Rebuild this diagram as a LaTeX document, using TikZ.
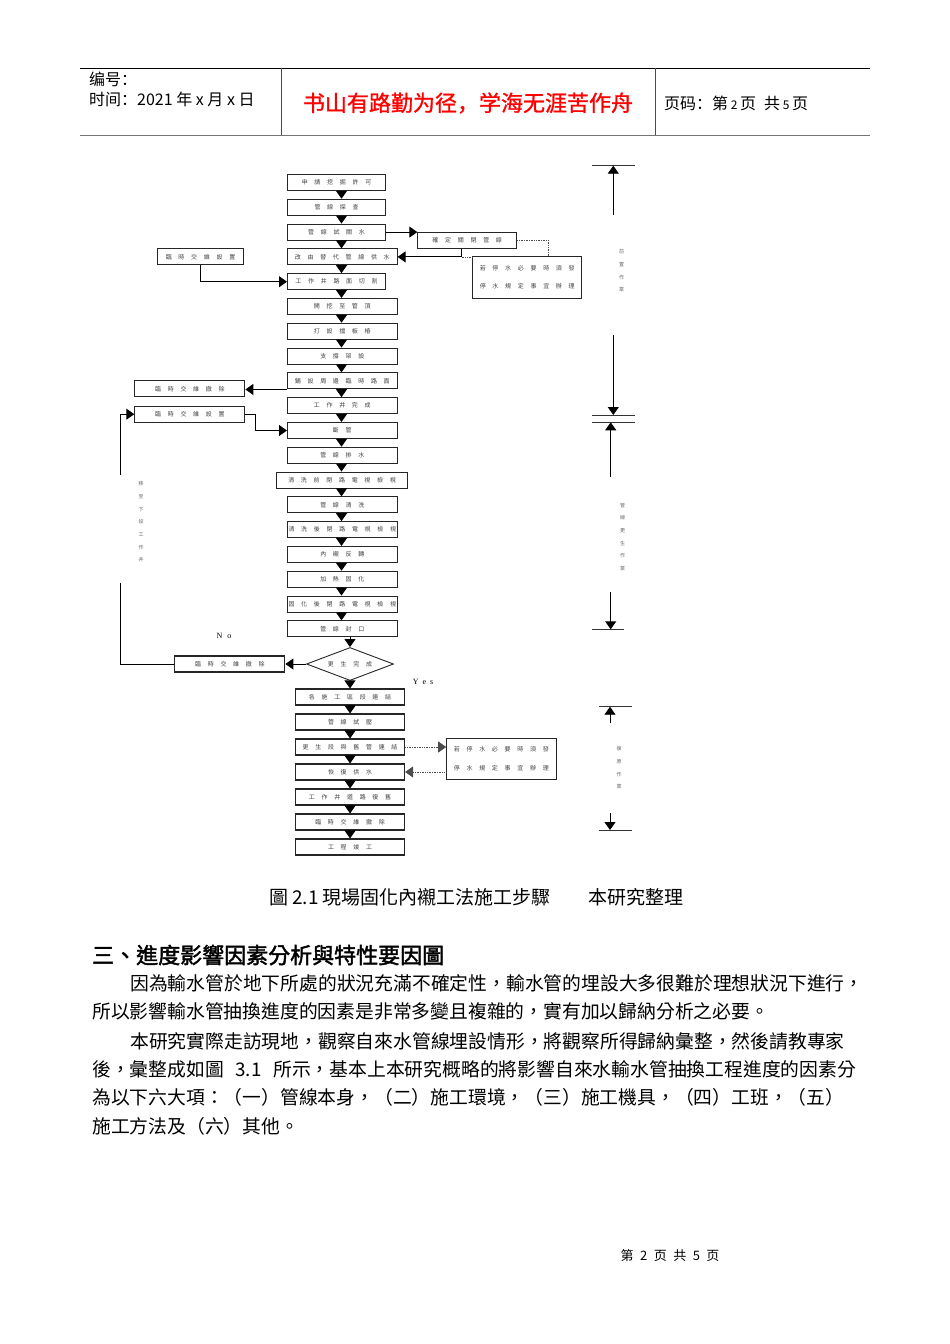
\documentclass[tikz,border=0pt]{standalone}
\usepackage{fontspec}
\setmainfont{Liberation Serif}
\newfontfamily\tcfont{Noto Sans CJK TC}
\newfontfamily\tcboldfont[FakeBold=2]{Noto Sans CJK TC}
\newfontfamily\scfont{Noto Sans CJK SC}
\newfontfamily\scboldfont[FakeBold=1.2]{Noto Sans CJK SC}
\usetikzlibrary{shapes.geometric, arrows.meta, positioning}

% glue between CJK characters, so that body lines can be justified
\XeTeXinterchartokenstate=1
\newcommand\cjkglue{\hskip0pt plus 2pt minus 0.6pt}
\XeTeXinterchartoks 1 1 = {\cjkglue}
\XeTeXinterchartoks 1 2 = {\cjkglue}
\XeTeXinterchartoks 1 3 = {\cjkglue}
\XeTeXinterchartoks 2 1 = {\cjkglue}
\XeTeXinterchartoks 3 1 = {\cjkglue}
\XeTeXinterchartoks 3 2 = {\cjkglue}

\makeatletter
\newcommand\spread[1]{\def\spreadgap{}\@tfor\spreadch:=#1\do{\spreadgap\spreadch\def\spreadgap{\hspace{6.7pt}}}}
\makeatother

\newcommand\bodyfont{\tcfont\fontsize{18.8}{22}\selectfont}

\tikzset{
    stepbox/.style={rectangle, draw=black!85, line width=1.1pt, minimum height=16pt, inner sep=0pt, anchor=west, text=black!75, font=\tcfont\fontsize{6}{7}\selectfont},
    notebox/.style={rectangle, draw=black!85, line width=0.9pt, inner sep=0pt, align=center, text=black!75, font=\tcfont\fontsize{6}{18.3}\selectfont},
    check/.style={diamond, aspect=2.6, draw=black!85, line width=0.9pt, minimum width=87pt, minimum height=33pt, inner sep=0pt, text=black!75, font=\tcfont\fontsize{6}{7}\selectfont},
    phase/.style={align=center, inner sep=0pt, text=black!60, font=\tcfont\fontsize{5}{12.7}\selectfont},
    yn/.style={inner sep=0pt, font=\fontsize{8}{9}\selectfont},
    arrow/.style={line width=0.9pt, -{Triangle[width=11pt,length=8pt]}},
    dotline/.style={densely dotted, line width=0.7pt, draw=black!70},
    dotarrow/.style={dotline, -{Triangle[width=11pt,length=8pt]}},
    bar/.style={line width=0.9pt, draw=black!80},
    line/.style={line width=0.9pt}
}

\begin{document}
\begin{tikzpicture}[x=1pt, y=-1pt]
    \useasboundingbox (0,0) rectangle (950,1344);

    % Header
    \draw[line width=0.8pt] (80,68) -- (870,68);
    \draw[line width=1.6pt, black!55] (80,135.5) -- (870,135.5);
    \draw[line width=0.8pt, black!70] (281,68) -- (281,135);
    \draw[line width=0.8pt, black!70] (655,68) -- (655,135);
    \node[anchor=west, inner sep=0pt, font=\scfont\fontsize{16}{18}\selectfont] (hnum) at (89,79) {编号：};
    \node[anchor=west, inner sep=0pt, font=\scfont\fontsize{16}{18}\selectfont] (hdate) at (89,99) {时间：2021 年 x 月 x 日};
    \node[inner sep=0pt, text=red, font=\scboldfont\fontsize{22}{24}\selectfont] (motto) at (468,103) {书山有路勤为径，学海无涯苦作舟};
    \node[anchor=west, inner sep=0pt, font=\scfont\fontsize{16}{18}\selectfont] (hpage) at (664,103) {页码：第\,{\fontsize{12}{12}\selectfont 2}\,页\enspace 共\,{\fontsize{12}{12}\selectfont 5}\,页};

    % Main column
    \coordinate (colA) at (341.5,0);
    \coordinate (colB) at (349.5,0);
    \node[stepbox, minimum width=98pt] (permit) at (287,182.5) {\spread{申請挖掘許可}};
    \node[stepbox, minimum width=98pt] (survey) at (287,207.3) {\spread{管線探查}};
    \node[stepbox, minimum width=98pt] (shutoff) at (287,232.1) {\spread{管線試關水}};
    \node[stepbox, minimum width=109.5pt] (altsupply) at (287,256.9) {\spread{改由替代管線供水}};
    \node[stepbox, minimum width=98pt] (cutroad) at (287,281.7) {\spread{工作井路面切割}};
    \node[stepbox, minimum width=109.5pt] (digtop) at (287,306.5) {\spread{開挖至管頂}};
    \node[stepbox, minimum width=109.5pt] (sheetpile) at (287,331.3) {\spread{打設擋板樁}};
    \node[stepbox, minimum width=109.5pt] (bracing) at (287,356.1) {\spread{支撐架設}};
    \node[stepbox, minimum width=109.5pt] (temproad) at (287,380.9) {\spread{鋪設周邊臨時路面}};
    \node[stepbox, minimum width=109.5pt] (pitdone) at (287,405.7) {\spread{工作井完成}};
    \node[stepbox, minimum width=109.5pt] (cutpipe) at (287,430.5) {\spread{斷管}};
    \node[stepbox, minimum width=109.5pt] (drain) at (287,455.3) {\spread{管線排水}};
    \node[stepbox, minimum width=131pt] (cctvpre) at (276,480.1) {\spread{清洗前閉路電視檢視}};
    \node[stepbox, minimum width=109.5pt] (wash) at (287,504.9) {\spread{管線清洗}};
    \node[stepbox, minimum width=109.5pt] (cctvwash) at (287,529.7) {\spread{清洗後閉路電視檢視}};
    \node[stepbox, minimum width=109.5pt] (invert) at (287,554.5) {\spread{內襯反轉}};
    \node[stepbox, minimum width=109.5pt] (heat) at (287,579.3) {\spread{加熱固化}};
    \node[stepbox, minimum width=109.5pt] (cctvpost) at (287,604.1) {\spread{固化後閉路電視檢視}};
    \node[stepbox, minimum width=109.5pt] (seal) at (287,628.9) {\spread{管線封口}};
    \node[check] (done) at (350,664) {\spread{更生完成}};
    \node[stepbox, minimum width=109pt] (link) at (295,697) {\spread{各施工區段連結}};
    \node[stepbox, minimum width=109pt] (ptest) at (295,722) {\spread{管線試壓}};
    \node[stepbox, minimum width=109pt] (connect) at (295,747) {\spread{更生段與舊管連結}};
    \node[stepbox, minimum width=109pt] (resupply) at (295,772) {\spread{恢復供水}};
    \node[stepbox, minimum width=109pt] (restore) at (295,797) {\spread{工作井道路復舊}};
    \node[stepbox, minimum width=109pt] (trafend) at (295,822) {\spread{臨時交維撤除}};
    \node[stepbox, minimum width=109pt] (finish) at (295,847) {\spread{工程竣工}};

    \foreach \a/\b in {permit/survey, survey/shutoff, shutoff/altsupply, altsupply/cutroad, cutroad/digtop, digtop/sheetpile, sheetpile/bracing, bracing/temproad, temproad/pitdone, pitdone/cutpipe, cutpipe/drain, drain/cctvpre, cctvpre/wash, wash/cctvwash, cctvwash/invert, invert/heat, heat/cctvpost, cctvpost/seal} {
        \draw[arrow] (\a.south -| colA) -- (\b.north -| colA);
    }
    \draw[arrow] (seal.south -| done.north) -- (done.north);
    \draw[arrow] (done.south) -- (link.north);
    \foreach \a/\b in {link/ptest, ptest/connect, connect/resupply, resupply/restore, restore/trafend, trafend/finish} {
        \draw[arrow] (\a.south) -- (\b.north);
    }

    % Side boxes
    \node[stepbox, minimum width=86.6pt] (trafset) at (156.7,256.7) {\spread{臨時交維設置}};
    \node[stepbox, minimum width=110pt] (trafrem) at (134.3,388.7) {\spread{臨時交維撤除}};
    \node[stepbox, minimum width=110pt] (trafnext) at (134.3,414.2) {\spread{臨時交維設置}};
    \node[stepbox, minimum width=110pt] (trafback) at (174.3,664) {\spread{臨時交維撤除}};
    \node[stepbox, minimum width=98.7pt] (confirm) at (417.3,240.3) {\spread{確定關閉管線}};
    \node[notebox, minimum width=109pt, minimum height=41.6pt] (notice) at (527.2,277.5) {\spread{若停水必要時須發}\\\spread{停水規定事宜辦理}};
    \node[notebox, minimum width=109.3pt, minimum height=41pt] (noticeb) at (501.3,758.8) {\spread{若停水必要時須發}\\\spread{停水規定事宜辦理}};

    \draw[arrow] (shutoff.east) -- (shutoff.east -| confirm.west);
    \coordinate (ret) at (461.7,256.9);
    \coordinate (nt) at (548,0);
    \draw[arrow] (confirm.south -| ret) -- (ret) -- (altsupply.east);
    \draw[dotline] (ret) -- (ret -| notice.west);
    \draw[dotline] (confirm.east) -| (notice.north -| nt);
    \draw[arrow] (trafset.south) |- (cutroad.west);
    \draw[arrow] (temproad.south west) -- (temproad.south west -| trafrem.east);
    \draw[arrow] (trafnext.east) -- ++(10,0) |- (cutpipe.west);
    \draw[arrow] (done.west) -- (trafback.east);

    % loop back for the next section
    \coordinate (loopa) at (120,583);
    \coordinate (loopb) at (120,475);
    \draw[line] (trafback.west) -| (loopa);
    \draw[arrow] (loopb) |- (trafnext.west);
    \node[phase, text=black!60] (loopnote) at (141,522) {移\\至\\下\\段\\工\\作\\井};
    \node[yn] (nolabel) at (224,636) {N\hspace{5pt}o};
    \node[yn] (yeslabel) at (423,682) {Y\hspace{4pt}e\hspace{4pt}s};

    \draw[dotarrow] (connect.east) -- (connect.east -| noticeb.west);
    \draw[dotarrow] (resupply.east -| noticeb.west) -- (resupply.east);

    % Phase markers
    \draw[bar] (591.7,165.7) -- (635,165.7);
    \draw[arrow] (613.3,215) -- (613.3,165.7);
    \node[phase] (phasea) at (621.7,271) {前\\置\\作\\業};
    \draw[arrow] (613.3,335) -- (613.3,415);
    \draw[bar] (591.7,415) -- (635,415);

    \draw[bar] (591.7,422.3) -- (635,422.3);
    \draw[arrow] (610.7,476.7) -- (610.7,422.3);
    \node[phase] (phaseb) at (622.7,537) {管\\線\\更\\生\\作\\業};
    \draw[arrow] (610.7,591.7) -- (610.7,629.3);
    \draw[bar] (591.7,629.3) -- (624.3,629.3);

    \draw[bar] (599,706.7) -- (632.3,706.7);
    \draw[arrow] (610,723.3) -- (610,706.7);
    \node[phase] (phasec) at (619,768) {復\\原\\作\\業};
    \draw[arrow] (610,813.3) -- (610,830);
    \draw[bar] (599,830) -- (632,830);

    % Caption and text
    \node[inner sep=0pt, font=\tcfont\fontsize{19}{22}\selectfont] (caption) at (476.5,897) {圖 2.1 現場固化內襯工法施工步驟　　本研究整理};
    \node[anchor=west, inner sep=0pt, font=\tcboldfont\fontsize{22}{24}\selectfont] (heading) at (92,955) {三、進度影響因素分析與特性要因圖};
    \node[anchor=west, inner sep=0pt, font=\bodyfont] (linea) at (130,983) {\makebox[732pt][s]{因為輸水管於地下所處的狀況充滿不確定性，輸水管的埋設大多很難於理想狀況下進行，}};
    \node[anchor=west, inner sep=0pt, font=\bodyfont] (lineb) at (92,1011) {所以影響輸水管抽換進度的因素是非常多變且複雜的，實有加以歸納分析之必要。};
    \node[anchor=west, inner sep=0pt, font=\bodyfont] (linec) at (130,1041) {\makebox[730pt][s]{本研究實際走訪現地，觀察自來水管線埋設情形，將觀察所得歸納彙整，然後請教專家}};
    \node[anchor=west, inner sep=0pt, font=\bodyfont] (lined) at (92,1069) {\makebox[764pt][s]{後，彙整成如圖 3.1 所示，基本上本研究概略的將影響自來水輸水管抽換工程進度的因素分}};
    \node[anchor=west, inner sep=0pt, font=\bodyfont] (linee) at (92,1097) {\makebox[768pt][s]{為以下六大項：（一）管線本身，（二）施工環境，（三）施工機具，（四）工班，（五）}};
    \node[anchor=west, inner sep=0pt, font=\bodyfont] (linef) at (92,1126) {施工方法及（六）其他。};

    % Footer
    \node[inner sep=0pt, font=\scfont\fontsize{13}{15}\selectfont] (footer) at (670,1256) {第\enspace 2\enspace 页\enspace 共\enspace 5\enspace 页};
\end{tikzpicture}
\end{document}
